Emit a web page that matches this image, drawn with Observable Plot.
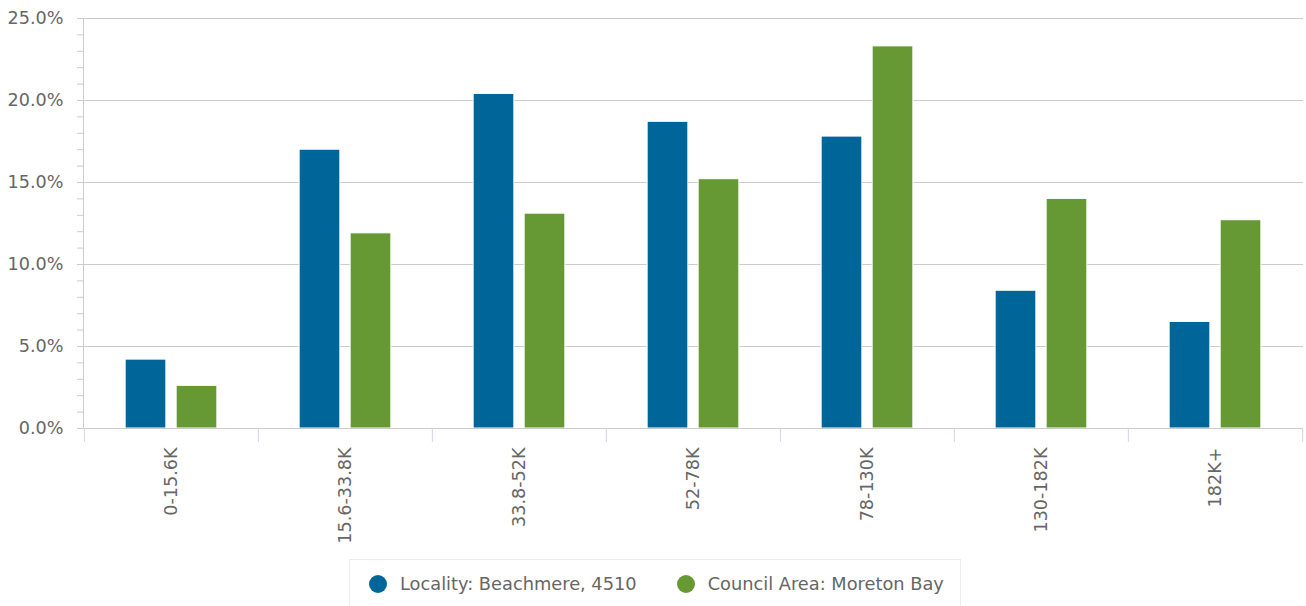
<!DOCTYPE html>
<html>
<head>
<meta charset="utf-8">
<script src="https://cdn.jsdelivr.net/npm/d3@7"></script>
<script src="https://cdn.jsdelivr.net/npm/@observablehq/plot@0.6"></script>
<style>
  html, body { margin: 0; padding: 0; background: #fff; }
  #wrap { position: relative; width: 1306px; height: 606px; font-family: "DejaVu Sans", sans-serif; }
  #legend { position: absolute; left: 349px; top: 559px; width: 612px; height: 60px; box-sizing: border-box;
            border: 1px solid #ececec; display: flex; align-items: flex-start; padding-top: 13px; padding-left: 19px;
            font-size: 17.8px; color: #666; }
  .item { display: flex; align-items: center; margin-right: 40px; white-space: nowrap; }
  .dot { width: 18px; height: 18px; border-radius: 50%; margin-right: 13px; }
</style>
</head>
<body>
<div id="wrap"><div id="chart"></div><div id="legend"></div></div>
<script>
const categories = ["0-15.6K", "15.6-33.8K", "33.8-52K", "52-78K", "78-130K", "130-182K", "182K+"];
const locality = [4.2, 17.0, 20.4, 18.7, 17.8, 8.4, 6.5];
const council = [2.6, 11.9, 13.1, 15.2, 23.3, 14.0, 12.7];
const seriesNames = ["Locality: Beachmere, 4510", "Council Area: Moreton Bay"];
const seriesColors = ["#006699", "#669933"];
const yMajorTicks = [0, 5, 10, 15, 20, 25];
const yMinorTicks = d3.range(0, 26, 1);

const W = 1306, H = 552, mL = 83, mR = 3, mT = 18, mB = 124;
const step = (W - mL - mR) / categories.length;
const barW = 41, half = 25.5;
const inset = (step - barW) / 2;

const locRows = categories.map((c, i) => ({category: c, value: locality[i]}));
const conRows = categories.map((c, i) => ({category: c, value: council[i]}));

const chart = Plot.plot({
  width: W, height: H,
  marginLeft: mL, marginRight: mR, marginTop: mT, marginBottom: mB,
  style: {fontFamily: "DejaVu Sans, sans-serif", fontSize: "17.6px", color: "#666", background: "#fff"},
  x: {domain: categories, padding: 0, axis: null},
  y: {domain: [0, 25], axis: null, label: null},
  marks: [
    Plot.ruleY(yMajorTicks, {stroke: "#cccccc", strokeWidth: 1}),
    Plot.axisY(yMinorTicks, {tickSize: 6, fill: "none", stroke: "#cccccc", label: null}),
    Plot.axisY(yMajorTicks, {tickSize: 0, tickPadding: 20, tickFormat: d => d.toFixed(1) + "%", fill: "#666", label: null}),
    Plot.frame({anchor: "left", stroke: "#cccccc"}),
    Plot.barY(locRows, {x: "category", y: "value", fill: seriesColors[0], stroke: "#fff", strokeWidth: 1,
      insetLeft: inset, insetRight: inset, dx: -half}),
    Plot.barY(conRows, {x: "category", y: "value", fill: seriesColors[1], stroke: "#fff", strokeWidth: 1,
      insetLeft: inset, insetRight: inset, dx: half}),
    Plot.ruleY([0], {stroke: "#cccccc"}),
    Plot.axisX(categories, {tickSize: 14, fill: "none", stroke: "#ccd6eb", dx: -step / 2, label: null}),
    Plot.axisX(categories.slice(-1), {tickSize: 14, fill: "none", stroke: "#ccd6eb", dx: step / 2, label: null}),
    Plot.axisX(categories, {tickSize: 0, tickRotate: -90, tickPadding: 19, fill: "#666", label: null})
  ]
});
document.getElementById("chart").appendChild(chart);

const legend = document.getElementById("legend");
seriesNames.forEach((name, i) => {
  const item = document.createElement("div");
  item.className = "item";
  const dot = document.createElement("span");
  dot.className = "dot";
  dot.style.background = seriesColors[i];
  const label = document.createElement("span");
  label.textContent = name;
  item.appendChild(dot);
  item.appendChild(label);
  legend.appendChild(item);
});
</script>
</body>
</html>
